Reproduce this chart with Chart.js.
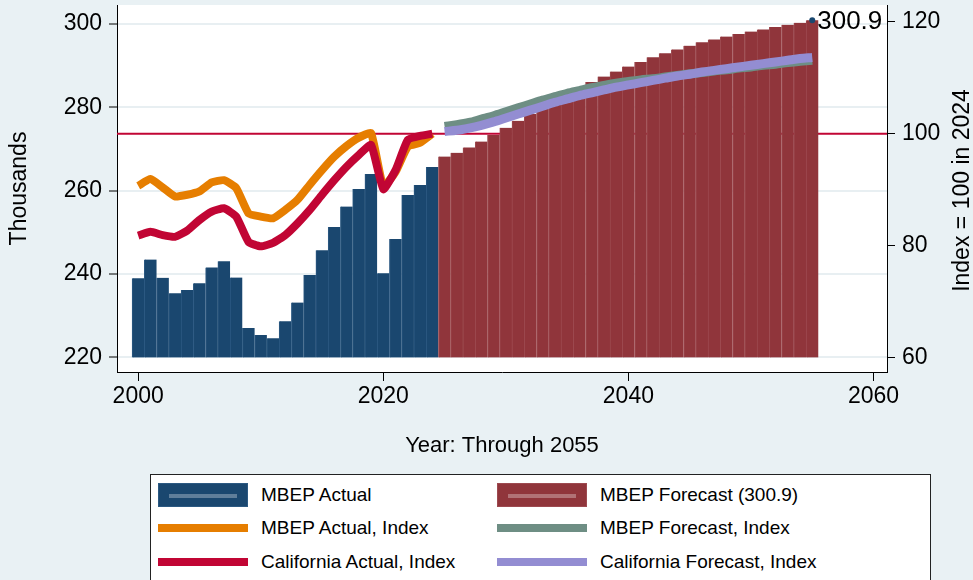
<!DOCTYPE html>
<html>
<head>
<meta charset="utf-8">
<title>MBEP population</title>
<script src="https://cdn.jsdelivr.net/npm/chart.js@4.4.1/dist/chart.umd.min.js"></script>
<style>
    html, body { margin: 0; padding: 0; background: #e9f1f4; }
    #wrap { position: relative; width: 973px; height: 580px; overflow: hidden; }
    #chart { position: absolute; left: 0; top: 0; }
    #legend {
        position: absolute; left: 150px; top: 474px; width: 779px; height: 130px;
        background: #fff; border: 1px solid #222;
        font-family: 'Liberation Sans', Arial, sans-serif; font-size: 19px; color: #000;
    }
    .item { position: absolute; height: 30px; display: flex; align-items: center; }
    .swatch { width: 90px; margin-right: 13px; box-sizing: border-box; position: relative; }
    .swatch.bar { height: 24px; }
    .swatch.bar::after {
        content: ''; position: absolute; left: 10px; right: 10px; top: 10px; height: 4px;
        background: rgba(255, 255, 255, 0.3);
    }
    .swatch.line { height: 8px; }
</style>
</head>
<body>
<div id="wrap">
    <canvas id="chart" width="973" height="580"></canvas>
    <div id="legend"></div>
</div>
<script>
// Values
const actualYears = [2000, 2001, 2002, 2003, 2004, 2005, 2006, 2007, 2008, 2009, 2010, 2011, 2012,
    2013, 2014, 2015, 2016, 2017, 2018, 2019, 2020, 2021, 2022, 2023, 2024];
const actualValues = [239.0, 243.5, 239.1, 235.4, 236.2, 237.8, 241.6, 243.1, 239.2, 227.1, 225.4, 224.6, 228.7,
    233.2, 239.8, 245.7, 251.3, 256.2, 260.4, 264.0, 240.2, 248.4, 259.0, 261.4, 265.7];
const mbepActualIndex = [90.7, 91.9, 90.4, 88.8, 89.1, 89.7, 91.3, 91.7, 90.3, 85.8, 85.2, 84.9, 86.4,
    88.2, 90.9, 93.5, 95.9, 97.8, 99.3, 100.1, 90.6, 93.2, 97.7, 98.4, 100.0];
const caActualIndex = [81.8, 82.5, 81.9, 81.6, 82.7, 84.6, 86.1, 86.7, 85.2, 80.7, 79.9, 80.5, 81.9,
    84.0, 86.4, 89.1, 91.7, 94.1, 96.2, 98.0, 90.1, 93.5, 98.9, 99.6, 100.0];

const forecastYears = [2025, 2026, 2027, 2028, 2029, 2030, 2031, 2032, 2033, 2034, 2035, 2036, 2037, 2038,
    2039, 2040, 2041, 2042, 2043, 2044, 2045, 2046, 2047, 2048, 2049, 2050, 2051, 2052, 2053, 2054, 2055];
const forecastValues = [268.2, 269.1, 270.4, 271.8, 273.4, 275.1, 276.8, 278.4, 280.2, 281.8, 283.2, 284.6, 286.1, 287.4,
    288.6, 289.8, 290.9, 292.0, 293.0, 293.9, 294.8, 295.6, 296.3, 297.0, 297.6, 298.2, 298.7, 299.3, 299.8, 300.3, 300.9];
const mbepForecastIndex = [101.3, 101.6, 102.0, 102.6, 103.2, 103.9, 104.6, 105.3, 106.0, 106.6, 107.2, 107.7, 108.2, 108.6,
    109.0, 109.3, 109.6, 109.8, 110.1, 110.4, 110.7, 110.9, 111.2, 111.4, 111.7, 111.9, 112.2, 112.4, 112.7, 112.9, 113.1];
const caForecastIndex = [100.4, 100.6, 101.0, 101.5, 102.1, 102.8, 103.5, 104.2, 104.9, 105.6, 106.2, 106.8, 107.3, 107.8,
    108.3, 108.7, 109.1, 109.5, 109.9, 110.3, 110.6, 111.0, 111.3, 111.6, 111.9, 112.2, 112.5, 112.8, 113.1, 113.4, 113.6];

const xTicks = [2000, 2020, 2040, 2060];
const leftTicks = [220, 240, 260, 280, 300];
const rightTicks = [60, 80, 100, 120];
const barBase = 220;
const indexBase = 100;
const lastYear = 2055;
const lastValue = 300.9;

const legendOrder = ['MBEP Actual', 'MBEP Forecast (300.9)', 'MBEP Actual, Index',
    'MBEP Forecast, Index', 'California Actual, Index', 'California Forecast, Index'];

// Stata s2color-ish palette
const colors = {
    navy: '#1a476f',
    navyEdge: '#2c5982',
    maroon: '#90353b',
    maroonEdge: '#9d4a50',
    orange: '#e67e00',
    red: '#c10534',
    teal: '#6e8e84',
    lavender: '#938dd2',
    grid: '#e8eff2',
    text: '#000'
};

const FONT = "'Liberation Sans', Arial, Helvetica, sans-serif";
Chart.defaults.font.family = FONT;
Chart.defaults.color = colors.text;

const toPoints = (xs, ys) => xs.map((x, i) => ({ x: x, y: ys[i] }));
const toBars = (xs, ys) => xs.map((x, i) => ({ x: x, y: [barBase, ys[i]] }));

// white plot region
const plotBackground = {
    id: 'plotBackground',
    beforeDraw(chart) {
        const { ctx, chartArea: a } = chart;
        ctx.save();
        ctx.fillStyle = '#fff';
        ctx.fillRect(a.left, a.top, a.right - a.left, a.bottom - a.top);
        ctx.restore();
    }
};

// index = 100 reference line, behind the bars
const indexLine = {
    id: 'indexLine',
    beforeDatasetsDraw(chart) {
        const { ctx, chartArea: a } = chart;
        const y = chart.scales.y2.getPixelForValue(indexBase);
        ctx.save();
        ctx.strokeStyle = colors.red;
        ctx.lineWidth = 2;
        ctx.beginPath();
        ctx.moveTo(a.left, y);
        ctx.lineTo(a.right, y);
        ctx.stroke();
        ctx.restore();
    }
};

// label next to last forecast bar + right axis title
const extraText = {
    id: 'extraText',
    afterDraw(chart) {
        const { ctx, chartArea: a } = chart;
        const idx = chart.data.datasets.findIndex(d => d.id === 'marker');
        const pt = chart.getDatasetMeta(idx).data[0];
        ctx.save();
        ctx.fillStyle = colors.text;
        ctx.font = '26px ' + FONT;
        ctx.textAlign = 'left';
        ctx.textBaseline = 'middle';
        ctx.fillText(String(lastValue), pt.x + 5, pt.y + 2);

        ctx.font = '23px ' + FONT;
        ctx.textAlign = 'center';
        ctx.translate(963, (a.top + a.bottom) / 2 + 2);
        ctx.rotate(-Math.PI / 2);
        ctx.fillText('Index = 100 in 2024', 0, 0);
        ctx.restore();
    }
};

const chart = new Chart(document.getElementById('chart'), {
    type: 'bar',
    data: {
        datasets: [
            {
                id: 'marker',
                type: 'line',
                label: 'last',
                data: [{ x: lastYear, y: lastValue }],
                yAxisID: 'y',
                showLine: false,
                pointRadius: 3,
                pointBackgroundColor: colors.navy,
                pointBorderWidth: 0,
                order: 0
            },
            {
                type: 'line',
                label: 'California Forecast, Index',
                data: toPoints(forecastYears, caForecastIndex),
                yAxisID: 'y2',
                borderColor: colors.lavender,
                backgroundColor: colors.lavender,
                borderWidth: 9,
                tension: 0.3,
                pointRadius: 0,
                order: 1
            },
            {
                type: 'line',
                label: 'MBEP Forecast, Index',
                data: toPoints(forecastYears, mbepForecastIndex),
                yAxisID: 'y2',
                borderColor: colors.teal,
                backgroundColor: colors.teal,
                borderWidth: 9,
                tension: 0.3,
                pointRadius: 0,
                order: 2
            },
            {
                type: 'line',
                label: 'California Actual, Index',
                data: toPoints(actualYears, caActualIndex),
                yAxisID: 'y2',
                borderColor: colors.red,
                backgroundColor: colors.red,
                borderWidth: 8,
                borderJoinStyle: 'round',
                tension: 0.15,
                pointRadius: 0,
                order: 3
            },
            {
                type: 'line',
                label: 'MBEP Actual, Index',
                data: toPoints(actualYears, mbepActualIndex),
                yAxisID: 'y2',
                borderColor: colors.orange,
                backgroundColor: colors.orange,
                borderWidth: 8,
                borderJoinStyle: 'round',
                tension: 0.15,
                pointRadius: 0,
                order: 4
            },
            {
                label: 'MBEP Forecast (300.9)',
                data: toBars(forecastYears, forecastValues),
                yAxisID: 'y',
                backgroundColor: colors.maroon,
                borderColor: colors.maroonEdge,
                borderWidth: { left: 1, right: 0, top: 0, bottom: 0 },
                borderSkipped: false,
                grouped: false,
                barPercentage: 1,
                categoryPercentage: 1,
                order: 5
            },
            {
                label: 'MBEP Actual',
                data: toBars(actualYears, actualValues),
                yAxisID: 'y',
                backgroundColor: colors.navy,
                borderColor: colors.navyEdge,
                borderWidth: { left: 1, right: 0, top: 0, bottom: 0 },
                borderSkipped: false,
                grouped: false,
                barPercentage: 1,
                categoryPercentage: 1,
                order: 6
            }
        ]
    },
    options: {
        responsive: false,
        animation: false,
        layout: { padding: { top: 5, left: 0, right: 0, bottom: 0 } },
        plugins: {
            legend: { display: false },
            tooltip: { enabled: false }
        },
        scales: {
            x: {
                type: 'linear',
                position: 'bottom',
                min: 1998.27,
                max: 2061.1,
                offset: false,
                afterBuildTicks: (axis) => { axis.ticks = xTicks.map(v => ({ value: v })); },
                afterFit: (axis) => { axis.height = 208; axis.paddingLeft = 0; axis.paddingRight = 0; },
                grid: { offset: false, drawOnChartArea: false, tickLength: 9, tickColor: '#000', tickWidth: 1 },
                border: { color: '#000', width: 1 },
                ticks: { font: { size: 23 }, padding: 2, maxRotation: 0, callback: (v) => String(v) },
                title: { display: true, text: 'Year: Through 2055', font: { size: 22 }, padding: { top: 0, bottom: 121 } }
            },
            y: {
                type: 'linear',
                position: 'left',
                min: 216.52,
                max: 304.56,
                afterBuildTicks: (axis) => { axis.ticks = leftTicks.map(v => ({ value: v })); },
                afterFit: (axis) => { axis.width = 117; axis.paddingTop = 0; axis.paddingBottom = 0; },
                grid: { color: colors.grid, lineWidth: 2, tickLength: 8, tickColor: '#000', tickWidth: 1 },
                border: { color: '#000', width: 1 },
                ticks: { font: { size: 23 }, padding: 7, callback: (v) => String(v) },
                title: { display: true, text: 'Thousands', font: { size: 23 }, padding: { top: 6, bottom: 0 } }
            },
            y2: {
                type: 'linear',
                position: 'right',
                min: 57.48,
                max: 122.96,
                afterBuildTicks: (axis) => { axis.ticks = rightTicks.map(v => ({ value: v })); },
                afterFit: (axis) => { axis.width = 86; axis.paddingTop = 0; axis.paddingBottom = 0; },
                grid: { drawOnChartArea: false, tickLength: 8, tickColor: '#000', tickWidth: 1 },
                border: { color: '#000', width: 1 },
                ticks: { font: { size: 23 }, padding: 7, callback: (v) => String(v) }
            }
        }
    },
    plugins: [plotBackground, indexLine, extraText]
});

// legend below the plot, two columns like the original
const legendBox = document.getElementById('legend');
const colLeft = [7, 346];
const rowMid = [20, 53, 87];
legendOrder.forEach((label, i) => {
    const ds = chart.data.datasets.find(d => d.label === label);
    const isBar = !ds.type;
    const item = document.createElement('div');
    item.className = 'item';
    item.style.left = colLeft[i % 2] + 'px';
    item.style.top = (rowMid[Math.floor(i / 2)] - 15) + 'px';
    const sw = document.createElement('div');
    sw.className = 'swatch ' + (isBar ? 'bar' : 'line');
    sw.style.background = isBar ? ds.backgroundColor : ds.borderColor;
    if (isBar) sw.style.border = '1px solid ' + ds.borderColor;
    const txt = document.createElement('span');
    txt.textContent = label;
    item.appendChild(sw);
    item.appendChild(txt);
    legendBox.appendChild(item);
});
</script>
</body>
</html>
